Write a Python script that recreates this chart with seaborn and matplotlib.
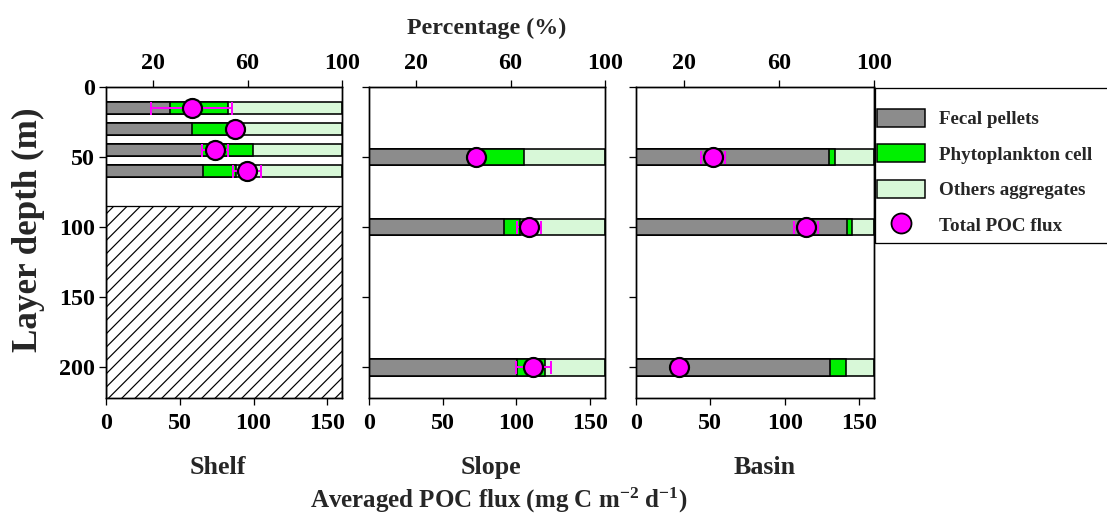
import numpy as np
import pandas as pd
import seaborn as sns
import matplotlib
matplotlib.use("Agg")
import matplotlib.pyplot as plt
from matplotlib.patches import Patch, Rectangle
from matplotlib.lines import Line2D

# ---------------- data ----------------
regions = ["Shelf", "Slope", "Basin"]
shelf_depth = [15, 30, 45, 60]
shelf_fecal = [27.1, 36.3, 40.6, 41.2]
shelf_phyto = [24.6, 16.9, 21.5, 13.8]
shelf_flux = [58.1, 87.5, 73.9, 95.4]
shelf_err = [27.4, 2.0, 8.5, 9.5]

slope_depth = [50, 100, 200]
slope_fecal = [42.8, 57.3, 62.7]
slope_phyto = [23.0, 6.7, 11.9]
slope_flux = [72.5, 108.5, 111.4]
slope_err = [4.0, 8.0, 12.0]

basin_depth = [50, 100, 200]
basin_fecal = [81.1, 88.8, 81.5]
basin_phyto = [2.4, 2.1, 6.9]
basin_flux = [51.6, 114.2, 29.0]
basin_err = [8.0, 8.0, 3.0]

shelf_seafloor = 85  # shelf: no data below this depth (hatched)

legend_labels = ["Fecal pellets", "Phytoplankton cell", "Others aggregates", "Total POC flux"]
pct_ticks = [20, 60, 100]
flux_ticks = [0, 50, 100, 150]
depth_ticks = [0, 50, 100, 150, 200]

# ---------------- style ----------------
DPI = 80
W, H = 1107, 514
def px(v):
    return v * 72.0 / DPI

sns.set_style("ticks")
plt.rcParams["font.family"] = ["Liberation Serif", "DejaVu Serif"]
plt.rcParams["font.weight"] = "bold"
plt.rcParams["mathtext.fontset"] = "custom"
plt.rcParams["mathtext.rm"] = "Liberation Serif:bold"
plt.rcParams["mathtext.it"] = "Liberation Serif:bold:italic"
plt.rcParams["mathtext.bf"] = "Liberation Serif:bold"
plt.rcParams["mathtext.default"] = "bf"
plt.rcParams["hatch.linewidth"] = px(1.2)
plt.rcParams["axes.linewidth"] = px(1.4)

C_FECAL = "#8c8c8c"
C_PHYTO = "#00f000"
C_OTHER = "#d8f8d8"
C_FLUX = "#ff00ff"

fig = plt.figure(figsize=(W / DPI, H / DPI), dpi=DPI)

panels = [
    (regions[0], shelf_depth, shelf_fecal, shelf_phyto, shelf_flux, shelf_err, 106, 342, 0.6, 218),
    (regions[1], slope_depth, slope_fecal, slope_phyto, slope_flux, slope_err, 369, 605, 0.24, 491),
    (regions[2], basin_depth, basin_fecal, basin_phyto, basin_flux, basin_err, 636, 874, 0.24, 765),
]
top_px, bot_px = 87, 398

tick_fs = px(24)
for i, (name, dep, fec, phy, flx, err, lpx, rpx, bw, namex) in enumerate(panels):
    ax = fig.add_axes([lpx / W, 1 - bot_px / H, (rpx - lpx) / W, (bot_px - top_px) / H])
    df = pd.DataFrame({"depth": dep, "fecal": fec, "phyto": phy})
    df["cum2"] = df["fecal"] + df["phyto"]
    df["cum3"] = 100.0
    for col, colr in [("cum3", C_OTHER), ("cum2", C_PHYTO), ("fecal", C_FECAL)]:
        sns.barplot(data=df, x=col, y="depth", orient="y", native_scale=True,
                    width=bw, color=colr, saturation=1, edgecolor="black",
                    linewidth=px(1.6), errorbar=None, ax=ax)
    if i == 0:
        ax.axhspan(shelf_seafloor, 240, facecolor="white", edgecolor="black",
                   hatch="//", lw=px(1.3), zorder=0.5)
    ax.set_xlabel("")
    ax.set_ylabel("")

    axb = ax.twiny()
    axb.errorbar(flx, dep, xerr=err, fmt="none", ecolor=C_FLUX, elinewidth=px(2),
                 capsize=px(6.5), capthick=px(2), zorder=3)
    sns.scatterplot(x=flx, y=dep, ax=axb, s=px(19) ** 2, color=C_FLUX,
                    edgecolor="black", linewidth=px(2.2), zorder=4)
    axb.set_xlim(0, 160)
    axb.xaxis.tick_bottom()
    axb.xaxis.set_label_position("bottom")
    axb.set_xticks(flux_ticks)
    axb.set_xlabel("")
    axb.set_ylabel("")

    ax.set_xlim(0, 100)
    ax.xaxis.tick_top()
    ax.xaxis.set_label_position("top")
    ax.set_xticks(pct_ticks)

    ax.set_ylim(222, 0)
    ax.set_yticks(depth_ticks)
    if i != 0:
        ax.set_yticklabels([])
    for a in (ax, axb):
        a.tick_params(direction="out", length=px(7), width=px(1.3), labelsize=tick_fs,
                      pad=px(4), colors="black")
        for s in a.spines.values():
            s.set_visible(True)
            s.set_color("black")
            s.set_linewidth(px(1.4))
    ax.tick_params(axis="x", pad=px(6))
    axb.tick_params(axis="x", pad=px(8))
    fig.text(namex / W, 1 - 474 / H, name, ha="center", va="baseline",
             fontsize=px(26), fontweight="bold")

fig.text(487 / W, 1 - 28 / H, "Percentage (%)", ha="center", va="center",
         fontsize=px(24), fontweight="bold")
fig.text(499 / W, 1 - 500 / H, r"Averaged POC flux (mg C m$^{-2}$ d$^{-1}$)",
         ha="center", va="center", fontsize=px(25), fontweight="bold")
fig.text(28 / W, 1 - 230 / H, "Layer depth (m)", rotation=90, ha="center", va="center",
         fontsize=px(35), fontweight="bold")

# legend
handles = [
    Patch(facecolor=C_FECAL, edgecolor="black", lw=px(1.5)),
    Patch(facecolor=C_PHYTO, edgecolor="black", lw=px(1.5)),
    Patch(facecolor=C_OTHER, edgecolor="black", lw=px(1.5)),
    Line2D([], [], marker="o", ls="", markersize=px(20), markerfacecolor=C_FLUX,
           markeredgecolor="black", markeredgewidth=px(1.8)),
]
fig.legend(handles, legend_labels, loc="upper left",
           bbox_to_anchor=(877 / W, 1 - 109 / H), frameon=False, borderpad=0,
           borderaxespad=0, handlelength=2.55, handleheight=1.05,
           handletextpad=0.7, labelspacing=0.85, prop={"weight": "bold", "size": px(19)})
fig.add_artist(Rectangle((875 / W, 1 - 243 / H), (W + 5 - 875) / W, (243 - 88) / H,
                         transform=fig.transFigure, fill=False, lw=px(1.3),
                         edgecolor="black", clip_on=False))

fig.savefig("out.png", dpi=DPI)
